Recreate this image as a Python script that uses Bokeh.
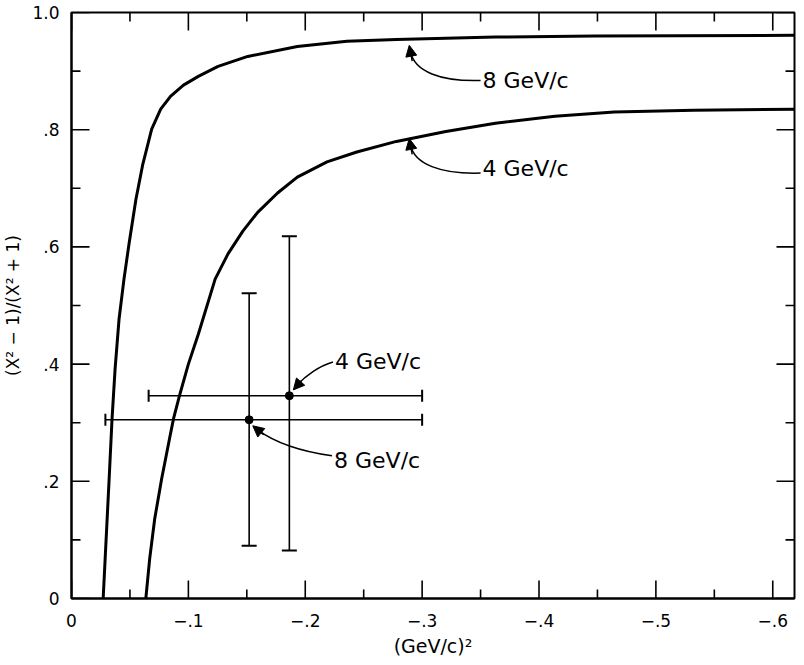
import math
from bokeh.plotting import figure
from bokeh.models import (Range1d, FixedTicker, Whisker, TeeHead,
                          Arrow, NormalHead, ColumnDataSource)
from bokeh.core.properties import value
from bokeh.embed import file_html
from bokeh.resources import INLINE

FONT = "DejaVu Sans"

# ---- axis extents ----
X_START, X_END = 0.0, -0.6186
Y_START, Y_END = 0.0, 1.0

# ---- curves (x in (GeV/c)^2, y = (X^2-1)/(X^2+1)) ----
curve8_x = [-0.0271, -0.0288, -0.0305, -0.0322, -0.0347, -0.0373, -0.0407, -0.0449,
            -0.0492, -0.0551, -0.0610, -0.0686, -0.0763, -0.0847, -0.0958, -0.1085,
            -0.1254, -0.1508, -0.1932, -0.2356, -0.2780, -0.3627, -0.4475, -0.6186]
curve8_y = [0.0, 0.068, 0.136, 0.204, 0.307, 0.392, 0.477, 0.545,
            0.605, 0.681, 0.741, 0.801, 0.835, 0.857, 0.876, 0.891,
            0.908, 0.925, 0.942, 0.951, 0.954, 0.958, 0.960, 0.961]
curve4_x = [-0.0636, -0.0669, -0.0712, -0.0771, -0.0839, -0.0873, -0.0924, -0.1000,
            -0.1085, -0.1229, -0.1339, -0.1466, -0.1593, -0.1763, -0.1932, -0.2186,
            -0.2441, -0.2780, -0.3203, -0.3627, -0.4136, -0.4644, -0.5322, -0.6186]
curve4_y = [0.0, 0.068, 0.136, 0.204, 0.273, 0.307, 0.346, 0.400,
            0.451, 0.545, 0.588, 0.627, 0.659, 0.692, 0.719, 0.745,
            0.762, 0.780, 0.797, 0.811, 0.823, 0.830, 0.833, 0.835]

# ---- data points with error bars ----
pt_names = ["4 GeV/c", "8 GeV/c"]
pt_x = [-0.1864, -0.152]
pt_y = [0.346, 0.305]
pt_x_lo = [-0.066, -0.029]
pt_x_hi = [-0.300, -0.300]
pt_y_lo = [0.082, 0.090]
pt_y_hi = [0.618, 0.521]

# ---- ticks ----
x_ticks = [0.0, -0.1, -0.2, -0.3, -0.4, -0.5, -0.6]
x_tick_labels = ["0", "−.1", "−.2", "−.3", "−.4", "−.5", "−.6"]
x_minor = [-0.05, -0.15, -0.25, -0.35, -0.45, -0.55]
y_ticks = [0.0, 0.2, 0.4, 0.6, 0.8, 1.0]
y_tick_labels = ["0", ".2", ".4", ".6", ".8", "1.0"]
y_minor = [0.1, 0.3, 0.5, 0.7, 0.9]

# ---- annotation labels and arrows ----
ann_text = ["8 GeV/c", "4 GeV/c", "4 GeV/c", "8 GeV/c"]
ann_tx = [-0.3517, -0.3517, -0.2254, -0.2246]
ann_ty = [0.884, 0.733, 0.405, 0.235]
bz_x0 = [-0.350, -0.350, -0.2237, -0.2229]
bz_y0 = [0.884, 0.726, 0.4037, 0.2436]
bz_cx0 = [-0.316, -0.316, -0.2119, -0.1932]
bz_cy0 = [0.882, 0.724, 0.3969, 0.2521]
bz_cx1 = [-0.293, -0.293, -0.2000, -0.1720]
bz_cy1 = [0.899, 0.741, 0.3799, 0.2692]
bz_x1 = [-0.2900, -0.2900, -0.1932, -0.1593]
bz_y1 = [0.934, 0.775, 0.3646, 0.2879]
ah_x0 = [-0.2915, -0.2915, -0.1966, -0.1644]
ah_y0 = [0.917, 0.758, 0.3714, 0.2794]
ah_x1 = [-0.2890, -0.2890, -0.1898, -0.1551]
ah_y1 = [0.944, 0.785, 0.3560, 0.2947]

p = figure(width=796, height=660, output_backend="svg", toolbar_location=None,
           x_range=Range1d(X_START, X_END), y_range=Range1d(Y_START, Y_END),
           min_border_left=64, min_border_right=2, min_border_top=12,
           min_border_bottom=62)
p.outline_line_color = "black"
p.outline_line_width = 2
p.grid.visible = False
p.background_fill_color = "white"
p.border_fill_color = "white"

def style_axis(ax, ticks, labels):
    ax.ticker = FixedTicker(ticks=ticks, minor_ticks=[])
    ax.major_label_overrides = dict(zip(ticks, labels))
    ax.axis_line_width = 2
    ax.axis_line_color = "black"
    ax.major_tick_in = 0
    ax.major_tick_out = 0
    ax.minor_tick_in = 0
    ax.minor_tick_out = 0
    ax.major_label_text_font = FONT
    ax.major_label_text_font_size = "17px"
    ax.major_label_text_color = "black"
    ax.axis_label_text_font = FONT
    ax.axis_label_text_font_style = "normal"
    ax.axis_label_text_color = "black"

for ax in p.below:
    style_axis(ax, x_ticks, x_tick_labels)
    ax.major_label_standoff = 15
    ax.axis_label = "(GeV/c)²"
    ax.axis_label_text_font_size = "19px"
    ax.axis_label_standoff = 5
for ax in p.left:
    style_axis(ax, y_ticks, y_tick_labels)
    ax.major_label_standoff = 12
    ax.major_label_orientation = "horizontal"
    ax.axis_label = "(X² − 1)/(X² + 1)"
    ax.axis_label_text_font_size = "17px"
    ax.axis_label_standoff = 6

# inward tick marks on all four sides (half of each dash is clipped by the frame)
V = math.pi / 2
p.scatter(x_ticks, [Y_START] * len(x_ticks), marker="dash", size=36, angle=V,
          line_width=1.6, line_color="black")
p.scatter(x_minor, [Y_START] * len(x_minor), marker="dash", size=18, angle=V,
          line_width=1.6, line_color="black")
p.scatter(x_ticks, [Y_END] * len(x_ticks), marker="dash", size=36, angle=V,
          line_width=1.6, line_color="black")
p.scatter(x_minor, [Y_END] * len(x_minor), marker="dash", size=18, angle=V,
          line_width=1.6, line_color="black")
p.scatter([X_START] * len(y_ticks), y_ticks, marker="dash", size=36,
          line_width=1.6, line_color="black")
p.scatter([X_START] * len(y_minor), y_minor, marker="dash", size=18,
          line_width=1.6, line_color="black")
p.scatter([X_END] * len(y_ticks), y_ticks, marker="dash", size=36,
          line_width=1.6, line_color="black")
p.scatter([X_END] * len(y_minor), y_minor, marker="dash", size=18,
          line_width=1.6, line_color="black")

# curves
p.line(curve8_x, curve8_y, line_width=3, line_color="black", line_join="round")
p.line(curve4_x, curve4_y, line_width=3, line_color="black", line_join="round")

# error bars
src = ColumnDataSource(dict(name=pt_names, x=pt_x, y=pt_y, xl=pt_x_lo, xh=pt_x_hi,
                            yl=pt_y_lo, yh=pt_y_hi))
p.add_layout(Whisker(source=src, base="x", lower="yl", upper="yh", dimension="height",
                     line_width=1.6, line_color="black",
                     lower_head=TeeHead(size=15, line_width=2),
                     upper_head=TeeHead(size=15, line_width=2)))
p.add_layout(Whisker(source=src, base="y", lower="xl", upper="xh", dimension="width",
                     line_width=1.6, line_color="black",
                     lower_head=TeeHead(size=12, line_width=2),
                     upper_head=TeeHead(size=12, line_width=2)))
p.scatter("x", "y", source=src, size=8, color="black")

# annotation arrows
p.bezier(x0=bz_x0, y0=bz_y0, x1=bz_x1, y1=bz_y1, cx0=bz_cx0, cy0=bz_cy0,
         cx1=bz_cx1, cy1=bz_cy1, line_width=1.5, line_color="black")
for i in range(len(ah_x0)):
    p.add_layout(Arrow(end=NormalHead(size=11, fill_color="black", line_color="black"),
                       x_start=ah_x0[i], y_start=ah_y0[i], x_end=ah_x1[i], y_end=ah_y1[i],
                       line_width=1.5, line_color="black"))
p.text(x=ann_tx, y=ann_ty, text=ann_text, text_font=value(FONT),
       text_font_size="22px", text_baseline="middle", text_align="left",
       text_color="black")

open("out.html", "w").write(file_html(p, INLINE))
